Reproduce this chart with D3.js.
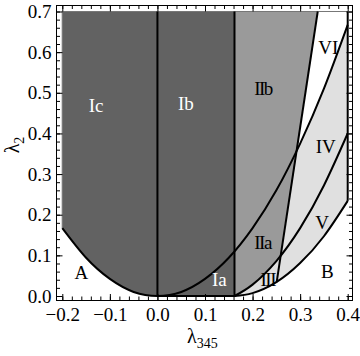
<!DOCTYPE html>
<html>
<head>
<meta charset="utf-8">
<script src="https://cdn.jsdelivr.net/npm/d3@7"></script>
<style>
body { margin: 0; background: #fff; }
text { font-family: "Liberation Serif", "DejaVu Serif", serif; }
</style>
</head>
<body>
<div id="chart"></div>
<script>
// boundary curves (lambda345, lambda2)
var parabolaX = [-0.2, -0.15, -0.1, -0.05, 0, 0.05, 0.1, 0.15, 0.2, 0.25, 0.3, 0.35, 0.4];
var parabolaY = [0.167, 0.094, 0.042, 0.010, 0, 0.010, 0.042, 0.094, 0.167, 0.260, 0.375, 0.510, 0.667];
var curve2X = [0.162, 0.2, 0.25, 0.3, 0.35, 0.4];
var curve2Y = [0, 0.028, 0.086, 0.167, 0.272, 0.40];
var curve3X = [0.162, 0.2, 0.25, 0.3, 0.35, 0.4];
var curve3Y = [0, 0.007, 0.034, 0.081, 0.147, 0.234];
var steepX = [0.2507, 0.337];
var steepY = [0.034, 0.7];
var splitX = 0.162;   // right edge of the "I" phases

// region names and where they sit
var labels = ["Ic", "Ib", "Ia", "IIb", "IIa", "III", "IV", "V", "VI", "A", "B"];
var labelX = [-0.129, 0.06, 0.13, 0.222, 0.221, 0.232, 0.354, 0.346, 0.359, -0.16, 0.357];
var labelY = [0.468, 0.473, 0.042, 0.512, 0.132, 0.042, 0.368, 0.18, 0.612, 0.057, 0.06];

var xTicks = [-0.2, -0.1, 0, 0.1, 0.2, 0.3, 0.4];
var yTicks = [0, 0.1, 0.2, 0.3, 0.4, 0.5, 0.6, 0.7];

var svg = d3.select("#chart")
            .append("svg")
            .attr("width", 360)
            .attr("height", 356);

var x = d3.scaleLinear().domain([-0.2, 0.4]).range([62.3, 347.7]);
var y = d3.scaleLinear().domain([0, 0.7]).range([296, 11.5]);

var line = d3.line().x(function(d){ return x(d[0]); }).y(function(d){ return y(d[1]); }).curve(d3.curveNatural);
var poly = d3.line().x(function(d){ return x(d[0]); }).y(function(d){ return y(d[1]); });

var parabola = d3.zip(parabolaX, parabolaY);
var curve2 = d3.zip(curve2X, curve2Y);
var curve3 = d3.zip(curve3X, curve3Y);
var steep = d3.zip(steepX, steepY);

var defs = svg.append("defs");
// below the big parabola
defs.append("clipPath").attr("id", "belowPar")
    .append("path")
    .attr("d", line(parabola) + "L" + x(0.4) + "," + y(-0.1) + "L" + x(-0.2) + "," + y(-0.1) + "Z");
// above curve 3
defs.append("clipPath").attr("id", "aboveC3")
    .append("path")
    .attr("d", line(curve3) + "L" + x(0.4) + "," + y(0.8) + "L" + x(splitX) + "," + y(0.8) + "Z");
// above curve 2
defs.append("clipPath").attr("id", "aboveC2")
    .append("path")
    .attr("d", line(curve2) + "L" + x(0.4) + "," + y(0.8) + "L" + x(splitX) + "," + y(0.8) + "Z");

//light gray: III, IV, V
svg.append("g").attr("clip-path", "url(#belowPar)")
   .append("g").attr("clip-path", "url(#aboveC3)")
   .append("rect")
   .attr("x", x(splitX)).attr("y", y(0.7))
   .attr("width", x(0.4) - x(splitX)).attr("height", y(0) - y(0.7))
   .attr("fill", "#e0e0e0");

//medium gray: IIa, IIb
svg.append("g").attr("clip-path", "url(#aboveC2)")
   .append("path")
   .attr("d", poly([[splitX, 0.7], steep[1], steep[0], [steepX[0] - 0.005, 0], [splitX, 0]]) + "Z")
   .attr("fill", "#9a9a9a");

//dark gray: Ia, Ib, Ic
var leftPar = parabola.filter(function(d){ return d[0] <= 0; });
svg.append("path")
   .attr("d", line(leftPar) + "L" + x(splitX) + "," + y(0) + "L" + x(splitX) + "," + y(0.7) + "L" + x(-0.2) + "," + y(0.7) + "Z")
   .attr("fill", "#626262");

// thin edges of the plotted region
svg.append("path")
   .attr("d", poly([[-0.2, parabolaY[0]], [-0.2, 0.7], [0.4, 0.7]]))
   .attr("fill", "none").attr("stroke", "#777").attr("stroke-width", 1.2);

// boundary lines
var bold = svg.append("g").attr("fill", "none").attr("stroke", "#000").attr("stroke-width", 2);
bold.append("path").attr("d", line(parabola));
bold.append("path").attr("d", line(curve2));
bold.append("path").attr("d", line(curve3));
bold.append("path").attr("d", poly(steep));
bold.append("path").attr("d", poly([[0, 0], [0, 0.7]]));
bold.append("path").attr("d", poly([[splitX, 0.7], [splitX, 0], [0, 0]]));
bold.append("path").attr("d", poly([[0.4, curve3Y[curve3Y.length - 1]], [0.4, 0.7]]));

// region names
svg.append("g").selectAll("text")
   .data(labels)
   .enter().append("text")
   .attr("x", function(d, i){ return x(labelX[i]); })
   .attr("y", function(d, i){ return y(labelY[i]); })
   .attr("dy", "0.35em")
   .attr("text-anchor", "middle")
   .attr("font-size", 19)
   .attr("letter-spacing", function(d){ return d.indexOf("II") == 0 ? -1.5 : 0; })
   .attr("fill", function(d){ return /^I[abc]$/.test(d) ? "#fff" : "#000"; })
   .text(function(d){ return d; });

// frame
svg.append("rect")
   .attr("x", 56.5).attr("y", 5.5)
   .attr("width", 296).attr("height", 295)
   .attr("fill", "none").attr("stroke", "#000").attr("stroke-width", 1);

var minorX = d3.range(-0.2, 0.401, 0.02);
var minorY = d3.range(0, 0.701, 0.02);
var fmt = d3.format(".1f");

function styleAxis(g){
  g.select(".domain").remove();
  g.selectAll("text").attr("font-family", "Liberation Serif").attr("font-size", 19).attr("fill", "#000");
}

svg.append("g").attr("transform", "translate(0,300)")
   .call(d3.axisBottom(x).tickValues(xTicks).tickFormat(fmt).tickSizeInner(-6).tickSizeOuter(0).tickPadding(8))
   .call(styleAxis);
svg.append("g").attr("transform", "translate(0,300)")
   .call(d3.axisBottom(x).tickValues(minorX).tickFormat("").tickSizeInner(-3.5).tickSizeOuter(0))
   .call(styleAxis);
svg.append("g").attr("transform", "translate(0,5.5)")
   .call(d3.axisTop(x).tickValues(xTicks).tickFormat("").tickSizeInner(-6).tickSizeOuter(0))
   .call(styleAxis);
svg.append("g").attr("transform", "translate(0,5.5)")
   .call(d3.axisTop(x).tickValues(minorX).tickFormat("").tickSizeInner(-3.5).tickSizeOuter(0))
   .call(styleAxis);

svg.append("g").attr("transform", "translate(56.5,0)")
   .call(d3.axisLeft(y).tickValues(yTicks).tickFormat(fmt).tickSizeInner(-6).tickSizeOuter(0).tickPadding(5))
   .call(styleAxis);
svg.append("g").attr("transform", "translate(56.5,0)")
   .call(d3.axisLeft(y).tickValues(minorY).tickFormat("").tickSizeInner(-3.5).tickSizeOuter(0))
   .call(styleAxis);
svg.append("g").attr("transform", "translate(352.5,0)")
   .call(d3.axisRight(y).tickValues(yTicks).tickFormat("").tickSizeInner(-6).tickSizeOuter(0))
   .call(styleAxis);
svg.append("g").attr("transform", "translate(352.5,0)")
   .call(d3.axisRight(y).tickValues(minorY).tickFormat("").tickSizeInner(-3.5).tickSizeOuter(0))
   .call(styleAxis);

// axis titles
var xt = svg.append("text").attr("x", 187).attr("y", 343).attr("font-size", 20);
xt.append("tspan").text("λ");
xt.append("tspan").attr("font-size", 14).attr("dy", 5).text("345");

var yt = svg.append("text").attr("transform", "translate(19,145) rotate(-90)")
            .attr("text-anchor", "middle").attr("font-size", 20);
yt.append("tspan").text("λ");
yt.append("tspan").attr("font-size", 14).attr("dy", 5).text("2");
</script>
</body>
</html>
